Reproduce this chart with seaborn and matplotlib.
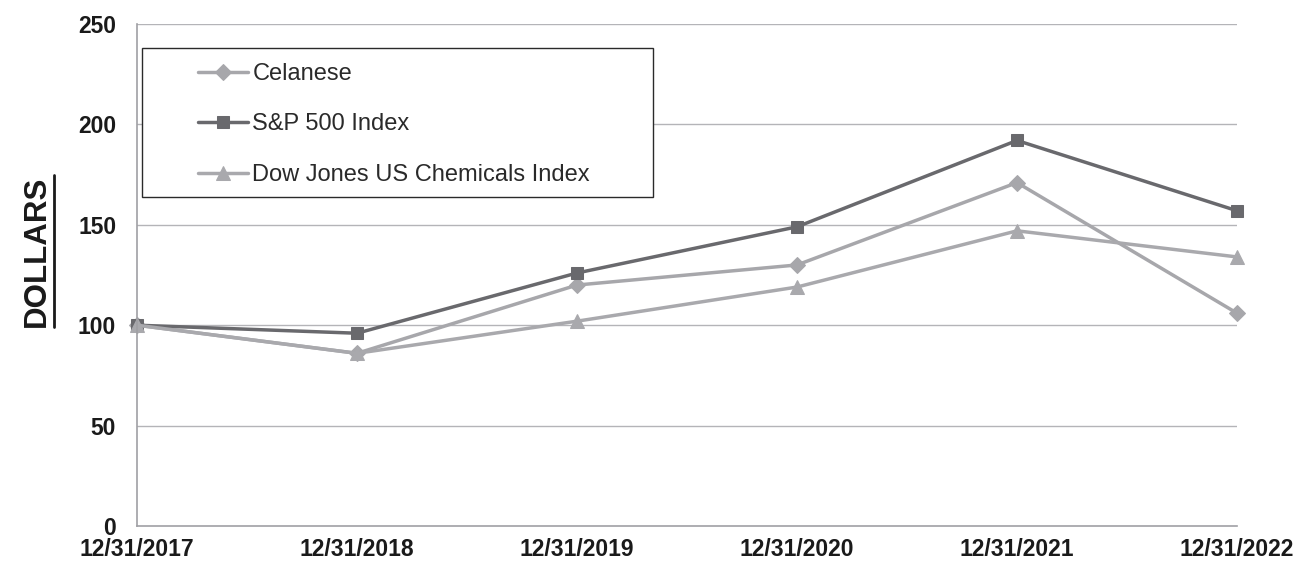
import matplotlib
matplotlib.use('Agg')
import matplotlib.pyplot as plt
from matplotlib.lines import Line2D
from matplotlib.patches import Rectangle
import seaborn as sns
import pandas as pd

dates = ['12/31/2017', '12/31/2018', '12/31/2019', '12/31/2020', '12/31/2021', '12/31/2022']
celanese = [100, 86, 120, 130, 171, 106]
sp500 = [100, 96, 126, 149, 192, 157]
dow_chem = [100, 86, 102, 119, 147, 134]
yticks = [0, 50, 100, 150, 200, 250]

series = [
    ('Celanese', celanese, '#a7a7ab', 'D', 8),
    ('S&P 500 Index', sp500, '#69696d', 's', 9),
    ('Dow Jones US Chemicals Index', dow_chem, '#a9a9ad', '^', 10),
]

sns.set_style('white')
plt.rcParams['font.family'] = ['Liberation Sans', 'DejaVu Sans']

fig = plt.figure(figsize=(12.99, 5.64), dpi=100)
ax = fig.add_axes([137 / 1299, 38 / 564, 1100 / 1299, 502 / 564])

for name, vals, color, marker, ms in series:
    df = pd.DataFrame({'date': dates, 'value': vals})
    sns.lineplot(data=df, x='date', y='value', ax=ax, color=color, marker=marker,
                 markersize=ms, markeredgecolor=color, linewidth=2.5, label=name,
                 sort=False, clip_on=False)

# grid
ax.set_ylim(0, 250)
ax.set_xlim(0, 5)
ax.set_yticks(yticks)
for v in yticks[1:]:
    ax.axhline(v, color='#b4b4b8', linewidth=1, zorder=0)

for s in ['top', 'right']:
    ax.spines[s].set_visible(False)
for s in ['left', 'bottom']:
    ax.spines[s].set_color('#a0a0a4')
    ax.spines[s].set_linewidth(1.2)

ax.tick_params(axis='both', which='major', direction='out', length=6, width=1,
               color='#a0a0a4', labelsize=16.5, labelcolor='#1a1a1a')
ax.tick_params(axis='y', pad=9)
ax.tick_params(axis='x', pad=3)
for lab in ax.get_xticklabels() + ax.get_yticklabels():
    lab.set_fontweight('bold')

ax.set_xlabel('')
ax.set_ylabel('')

# y label with underline
ylab = fig.text(37 / 1299, 1 - 251 / 564, 'DOLLARS', rotation=90, ha='center', va='center',
                fontsize=22.5, fontweight='bold', color='#1a1a1a')
fig.canvas.draw()
bb = ylab.get_window_extent().transformed(fig.transFigure.inverted())
ux = bb.x1 + 2 / 1299
fig.add_artist(Line2D([ux, ux], [bb.y0, bb.y1], transform=fig.transFigure,
                      color='#1a1a1a', linewidth=2))

# legend box
ax.add_patch(Rectangle((0.00455, 0.6554), 0.4645, 0.2968, transform=ax.transAxes,
                       facecolor='white', edgecolor='#2a2a2a', linewidth=1.0, zorder=4))
leg = ax.legend(loc='upper left', bbox_to_anchor=(0.0555, 0.922), frameon=False,
                fontsize=17, handlelength=2.1, handletextpad=0.2, labelspacing=1.2,
                borderpad=0, borderaxespad=0)
for t in leg.get_texts():
    t.set_color('#2a2a2a')
leg.set_zorder(5)

fig.savefig('out.png', dpi=100, facecolor='white')
